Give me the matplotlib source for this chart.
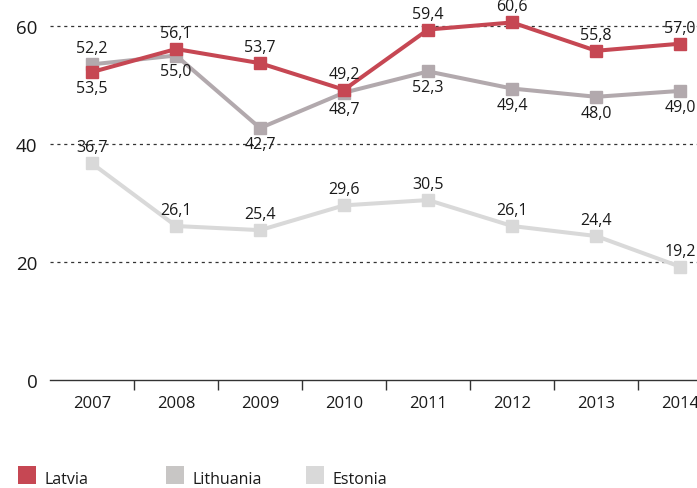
import matplotlib.pyplot as plt
from matplotlib.patches import Rectangle

years = ['2007', '2008', '2009', '2010', '2011', '2012', '2013', '2014']
latvia = [52.2, 56.1, 53.7, 49.2, 59.4, 60.6, 55.8, 57.0]
lithuania = [53.5, 55.0, 42.7, 48.7, 52.3, 49.4, 48.0, 49.0]
estonia = [36.7, 26.1, 25.4, 29.6, 30.5, 26.1, 24.4, 19.2]

# label side per point: +1 above the marker, -1 below
latvia_side = [-1, 1, 1, 1, 1, 1, 1, 1]
lithuania_side = [1, -1, -1, -1, -1, -1, -1, -1]
estonia_side = [1, 1, 1, 1, 1, 1, 1, 1]

# 2007: the two labels are swapped between the close markers
latvia_labels = ['53,5'] + [f'{v:.1f}'.replace('.', ',') for v in latvia[1:]]
lithuania_labels = ['52,2'] + [f'{v:.1f}'.replace('.', ',') for v in lithuania[1:]]
estonia_labels = [f'{v:.1f}'.replace('.', ',') for v in estonia]

RED = '#c64753'
GREY = '#b2a9ad'
LIGHT = '#d9d9d9'
TXT = '#1a1a1a'

plt.rcParams['font.family'] = ['Open Sans', 'DejaVu Sans']

W, H = 697, 489
fig = plt.figure(figsize=(W / 100, H / 100), dpi=100)
ax = fig.add_axes([50 / W, 1 - 381 / H, 647 / W, 377.6 / H])

x = list(range(len(years)))
series = [
    (estonia, LIGHT, estonia_side, estonia_labels),
    (lithuania, GREY, lithuania_side, lithuania_labels),
    (latvia, RED, latvia_side, latvia_labels),
]
for vals, col, sides, labels in series:
    ax.plot(x, vals, color=col, lw=2.9, marker='s', ms=9, zorder=3,
            solid_joinstyle='miter')
    for xi, v, s, t in zip(x, vals, sides, labels):
        ax.annotate(t, (xi, v), xytext=(0, 11.5 * s), textcoords='offset points',
                    ha='center', va='center', fontsize=11.5, color=TXT,
                    zorder=4, annotation_clip=False)

for g in (20, 40, 60):
    ax.axhline(g, color='#333333', lw=0.9, ls=(0, (2.5, 3)), zorder=1)

ax.set_xlim(-0.5, 7.2)
ax.set_ylim(0, 64)
for s in ('top', 'right', 'left'):
    ax.spines[s].set_visible(False)
ax.spines['bottom'].set_color('#333333')
ax.spines['bottom'].set_linewidth(1.0)

ax.set_xticks([i + 0.5 for i in range(7)])
ax.set_xticklabels([])
ax.set_xticks(x, minor=True)
ax.set_xticklabels(years, minor=True, fontsize=12, color=TXT)
ax.tick_params(axis='x', which='major', length=7, color='#333333', width=1)
ax.tick_params(axis='x', which='minor', length=0, pad=11)

ax.set_yticks([0, 20, 40, 60])
ax.set_yticklabels(['0', '20', '40', '60'], fontsize=13.5, color=TXT)
ax.tick_params(axis='y', length=0, pad=9)

# legend: coloured squares with names, laid out along the bottom
legend = [('Latvia', RED, 18), ('Lithuania', '#c8c6c5', 166), ('Estonia', LIGHT, 306)]
for name, col, px in legend:
    fig.add_artist(Rectangle((px / W, 1 - 485 / H), 18 / W, 18 / H,
                             transform=fig.transFigure, color=col, lw=0))
    fig.text((px + 26) / W, 1 - 480 / H, name, fontsize=11.5, color=TXT,
             va='center', ha='left')

fig.savefig('out.png', dpi=100)
